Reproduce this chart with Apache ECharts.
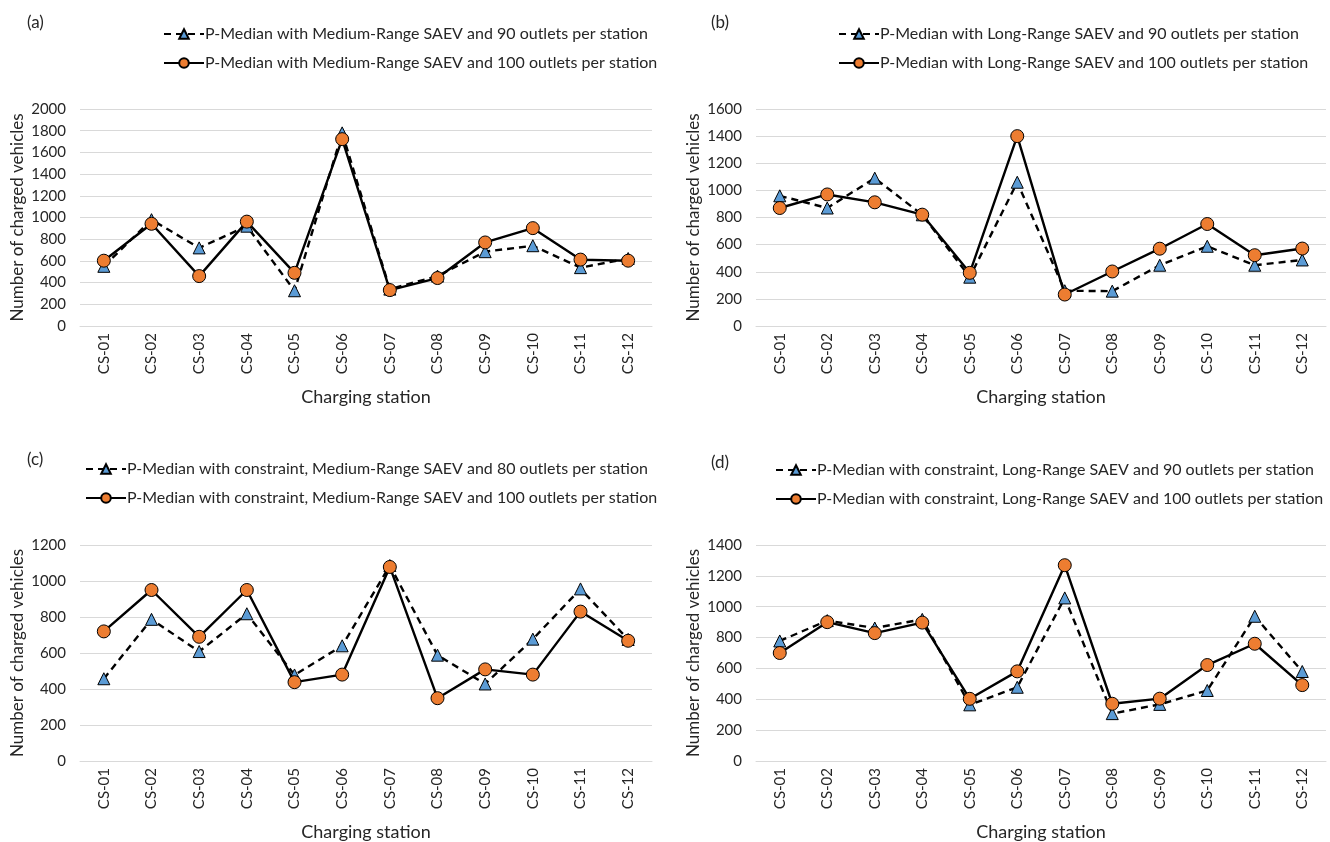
<!DOCTYPE html>
<html><head><meta charset="utf-8">
<script src="https://cdn.jsdelivr.net/npm/echarts@6/dist/echarts.min.js"></script>
<style>html,body{margin:0;padding:0;background:#fff}#c{width:1330px;height:842px}</style>
</head><body><div id="c"></div>
<script>
const categories = ['CS-01','CS-02','CS-03','CS-04','CS-05','CS-06','CS-07','CS-08','CS-09','CS-10','CS-11','CS-12'];

const namesA = ['P-Median with Medium-Range SAEV and 90 outlets per station','P-Median with Medium-Range SAEV and 100 outlets per station'];
const a90  = [550, 980, 720, 920, 325, 1780, 340, 460, 685, 740, 538, 622];
const a100 = [602, 942, 460, 962, 490, 1722, 331, 442, 770, 902, 612, 602];

const namesB = ['P-Median with Long-Range SAEV and 90 outlets per station','P-Median with Long-Range SAEV and 100 outlets per station'];
const b90  = [960, 870, 1090, 820, 360, 1060, 260, 257, 448, 588, 448, 487];
const b100 = [870, 970, 912, 821, 392, 1400, 232, 402, 570, 752, 522, 571];

const namesC = ['P-Median with constraint, Medium-Range SAEV and 80 outlets per station','P-Median with constraint, Medium-Range SAEV and 100 outlets per station'];
const c80  = [457, 787, 608, 818, 478, 640, 1086, 588, 428, 677, 956, 675];
const c100 = [720, 950, 690, 950, 438, 480, 1078, 349, 509, 480, 830, 668];

const namesD = ['P-Median with constraint, Long-Range SAEV and 90 outlets per station','P-Median with constraint, Long-Range SAEV and 100 outlets per station'];
const d90  = [778, 910, 862, 918, 364, 478, 1057, 307, 367, 457, 938, 580];
const d100 = [700, 900, 829, 897, 403, 581, 1269, 371, 404, 622, 760, 492];

const panelLabels = ['(a)','(b)','(c)','(d)'];
const yMax = [2000, 1600, 1200, 1400];

const FONT = 'Lato';
const TXT = '#262626';

const grids = [
  {left: 80, top: 109, width: 572, height: 217},
  {left: 756, top: 109, width: 570, height: 217},
  {left: 80, top: 545, width: 572, height: 218},
  {left: 756, top: 545, width: 570, height: 218}
];
const legendPos = [
  {left: 158, top: 21},
  {left: 833, top: 21},
  {left: 80, top: 456},
  {left: 770, top: 457}
];
const titlePos = [
  {left: 22, top: 9},
  {left: 706, top: 9},
  {left: 22, top: 446},
  {left: 706, top: 449}
];

const panels = [
  {names: namesA, s1: a90, s2: a100},
  {names: namesB, s1: b90, s2: b100},
  {names: namesC, s1: c80, s2: c100},
  {names: namesD, s1: d90, s2: d100}
];

const xAxis = [], yAxis = [], series = [], legend = [], title = [];
panels.forEach((p, i) => {
  xAxis.push({
    type: 'category', gridIndex: i, data: categories, boundaryGap: true,
    name: 'Charging station', nameLocation: 'middle', nameGap: 62,
    nameTextStyle: {fontFamily: FONT, fontSize: 18, color: TXT},
    axisLine: {lineStyle: {color: '#d9d9d9', width: 1}},
    axisTick: {show: false},
    axisLabel: {rotate: 90, fontFamily: FONT, fontSize: 15, color: TXT, margin: 7, interval: 0}
  });
  yAxis.push({
    type: 'value', gridIndex: i, min: 0, max: yMax[i], interval: 200,
    name: 'Number of charged vehicles', nameLocation: 'middle', nameGap: 54,
    nameTextStyle: {fontFamily: FONT, fontSize: 17, color: TXT},
    axisLine: {show: false}, axisTick: {show: false},
    axisLabel: {fontFamily: FONT, fontSize: 15, color: TXT, margin: 14, formatter: v => String(v)},
    splitLine: {lineStyle: {color: '#d9d9d9', width: 1}}
  });
  series.push({
    name: p.names[0], type: 'line', xAxisIndex: i, yAxisIndex: i, data: p.s1,
    symbol: 'triangle', symbolSize: 12,
    lineStyle: {color: '#000', width: 2.4, type: [7, 5]},
    itemStyle: {color: '#5b9bd5', borderColor: '#000', borderWidth: 1},
    emphasis: {disabled: true}, animation: false, z: 2
  });
  series.push({
    name: p.names[1], type: 'line', xAxisIndex: i, yAxisIndex: i, data: p.s2,
    symbol: 'circle', symbolSize: 13,
    lineStyle: {color: '#000', width: 2.4, type: 'solid'},
    itemStyle: {color: '#ed7d31', borderColor: '#000', borderWidth: 1},
    emphasis: {disabled: true}, animation: false, z: 3
  });
  legend.push(Object.assign({
    orient: 'vertical', data: p.names, itemWidth: 40, itemHeight: 12, itemGap: 13,
    textStyle: {fontFamily: FONT, fontSize: 16, color: TXT, padding: [0, 0, 0, -4]},
    selectedMode: false
  }, legendPos[i]));
  title.push(Object.assign({
    text: panelLabels[i], textStyle: {fontFamily: FONT, fontSize: 17, fontWeight: 'normal', color: TXT}
  }, titlePos[i]));
});

const chart = echarts.init(document.getElementById('c'), null, {renderer: 'canvas'});
chart.setOption({
  backgroundColor: '#fff',
  animation: false,
  title, legend, grid: grids, xAxis, yAxis, series
});
</script>
</body></html>
